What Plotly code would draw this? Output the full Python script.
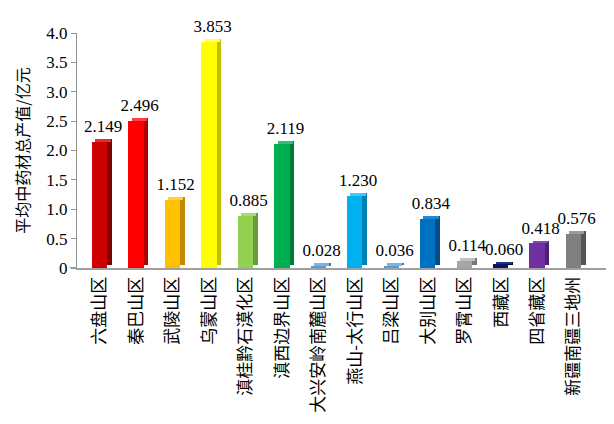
import plotly.graph_objects as go

regions = ["六盘山区", "秦巴山区", "武陵山区", "乌蒙山区", "滇桂黔石漠化区", "滇西边界山区",
           "大兴安岭南麓山区", "燕山-太行山区", "吕梁山区", "大别山区", "罗霄山区", "西藏区",
           "四省藏区", "新疆南疆三地州"]
values = [2.149, 2.496, 1.152, 3.853, 0.885, 2.119, 0.028, 1.230, 0.036, 0.834, 0.114, 0.060, 0.418, 0.576]
labels = ["%.3f" % v for v in values]

front_colors = ["#CC0000", "#FF0000", "#FFC000", "#FFFF00", "#92D050", "#00B050", "#5B9BD5",
                "#00B0F0", "#5B9BD5", "#0070C0", "#A6A6A6", "#0A1560", "#7030A0", "#808080"]
side_colors = ["#800000", "#B00000", "#C08800", "#C0C000", "#6A9A3A", "#007A38", "#3F73A8",
               "#0080B0", "#3F73A8", "#004F88", "#787878", "#000830", "#4E1F73", "#555555"]
top_colors = ["#E03030", "#FF4040", "#FFD040", "#FFFF60", "#A8DC70", "#30C070", "#80B4E0",
              "#40C8F8", "#80B4E0", "#2088D0", "#C0C0C0", "#203080", "#8848B8", "#9A9A9A"]

x = list(range(len(regions)))
depth = [0.05] * len(values)
serif = "Times New Roman, Liberation Serif, DejaVu Serif, serif"

fig = go.Figure()

# side face of the pseudo-3D bars
fig.add_trace(go.Bar(
    x=x, y=values, base=0.05, width=0.13, offset=0.2,
    marker=dict(color=side_colors, line=dict(width=0)),
    hoverinfo="skip", showlegend=False,
))

# front face
fig.add_trace(go.Bar(
    x=x, y=values, width=0.42, offset=-0.22,
    marker=dict(color=front_colors, line=dict(width=0)),
    showlegend=False,
))

# top face, carries the value labels
fig.add_trace(go.Bar(
    x=x, y=depth, base=values, width=0.42, offset=-0.13,
    marker=dict(color=top_colors, line=dict(width=0)),
    text=labels, textposition="outside", cliponaxis=False, constraintext="none",
    textfont=dict(family=serif, size=17, color="black"),
    hoverinfo="skip", showlegend=False,
))

# page body adds an 8px offset, margins are trimmed for it
fig.update_layout(
    width=604, height=416,
    margin=dict(l=69, r=2, t=25, b=156),
    paper_bgcolor="white", plot_bgcolor="white",
    barmode="overlay",
    bargap=0,
    font=dict(family=serif, color="black"),
)

fig.update_xaxes(
    range=[-0.63, 13.99],
    tickmode="array", tickvals=x, ticktext=regions,
    tickangle=-90,
    tickfont=dict(family="Noto Sans CJK SC", size=17, color="black"),
    showline=True, linecolor="#A0A0A0", linewidth=2,
    ticks="", showgrid=False, zeroline=False,
)

fig.update_yaxes(
    range=[0, 4.0],
    tickvals=[0, 0.5, 1.0, 1.5, 2.0, 2.5, 3.0, 3.5, 4.0],
    ticktext=["0", "0.5", "1.0", "1.5", "2.0", "2.5", "3.0", "3.5", "4.0"],
    tickfont=dict(family=serif, size=17, color="black"),
    showline=True, linecolor="#909090", linewidth=1,
    ticks="outside", ticklen=5, tickcolor="#909090",
    showgrid=False, zeroline=False,
    title=dict(text="平均中药材总产值/亿元",
               font=dict(family="Noto Sans CJK SC", size=16, color="black"),
               standoff=12),
)

# x axis line runs a little past the y axis, as in the original
fig.add_shape(type="line", xref="paper", yref="y", x0=-0.014, x1=0, y0=0, y1=0,
              line=dict(color="#A0A0A0", width=2))

fig.write_html("out.html")
